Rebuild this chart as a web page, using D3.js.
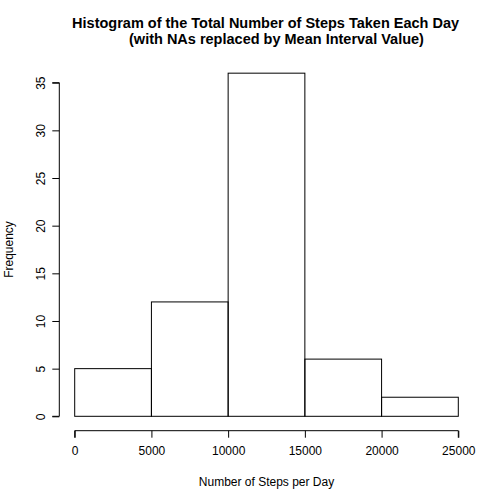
<!DOCTYPE html>
<html>
<head>
<meta charset="utf-8">
<script src="https://cdn.jsdelivr.net/npm/d3@7"></script>
<style>
    body { margin: 0; background: #fff; }
    svg { display: block; font-family: "Liberation Sans", Arial, sans-serif; }
</style>
</head>
<body>
<div id="chart"></div>
<script>
// histogram bins (steps per day) and their counts
const breaks = [0, 5000, 10000, 15000, 20000, 25000];
const counts = [5, 12, 36, 6, 2];
const xTicks = [0, 5000, 10000, 15000, 20000, 25000];
const yTicks = [0, 5, 10, 15, 20, 25, 30, 35];

const width = 504, height = 504;

const svg = d3.select('#chart')
    .append('svg')
    .attr('width', width)
    .attr('height', height);

const x = d3.scaleLinear().domain([0, 25000]).range([74.7, 458.3]);
const y = d3.scaleLinear().domain([0, 35]).range([416.3, 82.7]);

const bins = counts.map((c, i) => ({ x0: breaks[i], x1: breaks[i + 1], count: c }));

// bars
svg.append('g')
    .selectAll('rect')
    .data(bins)
    .join('rect')
    .attr('x', d => x(d.x0))
    .attr('y', d => y(d.count))
    .attr('width', d => x(d.x1) - x(d.x0))
    .attr('height', d => y(0) - y(d.count))
    .attr('fill', 'none')
    .attr('stroke', '#000')
    .attr('stroke-width', 1);

// x axis (R style: detached below plot)
const xAxis = svg.append('g')
    .attr('transform', 'translate(0,430.7)')
    .call(d3.axisBottom(x).tickValues(xTicks).tickSize(7).tickPadding(9).tickFormat(d3.format('d')));
xAxis.select('.domain').attr('d', `M${x(0)},7V0H${x(25000)}V7`);
xAxis.selectAll('text').attr('font-size', 12).attr('font-family', 'Liberation Sans, Arial, sans-serif').attr('fill', '#000');

// y axis
const yAxis = svg.append('g')
    .attr('transform', 'translate(59.3,0)')
    .call(d3.axisLeft(y).tickValues(yTicks).tickSize(7).tickFormat(d3.format('d')));
yAxis.select('.domain').attr('d', `M-7,${y(0)}H0V${y(35)}H-7`);
yAxis.selectAll('.tick text')
    .attr('font-size', 12)
    .attr('font-family', 'Liberation Sans, Arial, sans-serif')
    .attr('fill', '#000')
    .attr('x', null)
    .attr('dy', null)
    .attr('text-anchor', 'middle')
    .attr('transform', 'translate(-18,0) rotate(-90)')
    .attr('dominant-baseline', 'central');

// axis titles
svg.append('text')
    .attr('x', 266.5)
    .attr('y', 486)
    .attr('text-anchor', 'middle')
    .attr('font-size', 12)
    .text('Number of Steps per Day');

svg.append('text')
    .attr('transform', 'translate(13,249.5) rotate(-90)')
    .attr('text-anchor', 'middle')
    .attr('font-size', 12)
    .text('Frequency');

// main title
svg.append('text')
    .attr('x', 265.6)
    .attr('y', 27.5)
    .attr('text-anchor', 'middle')
    .attr('font-size', 14.5)
    .attr('font-weight', 'bold')
    .text('Histogram of the Total Number of Steps Taken Each Day');

svg.append('text')
    .attr('x', 276.5)
    .attr('y', 44)
    .attr('text-anchor', 'middle')
    .attr('font-size', 14.5)
    .attr('font-weight', 'bold')
    .text('(with NAs replaced by Mean Interval Value)');
</script>
</body>
</html>
